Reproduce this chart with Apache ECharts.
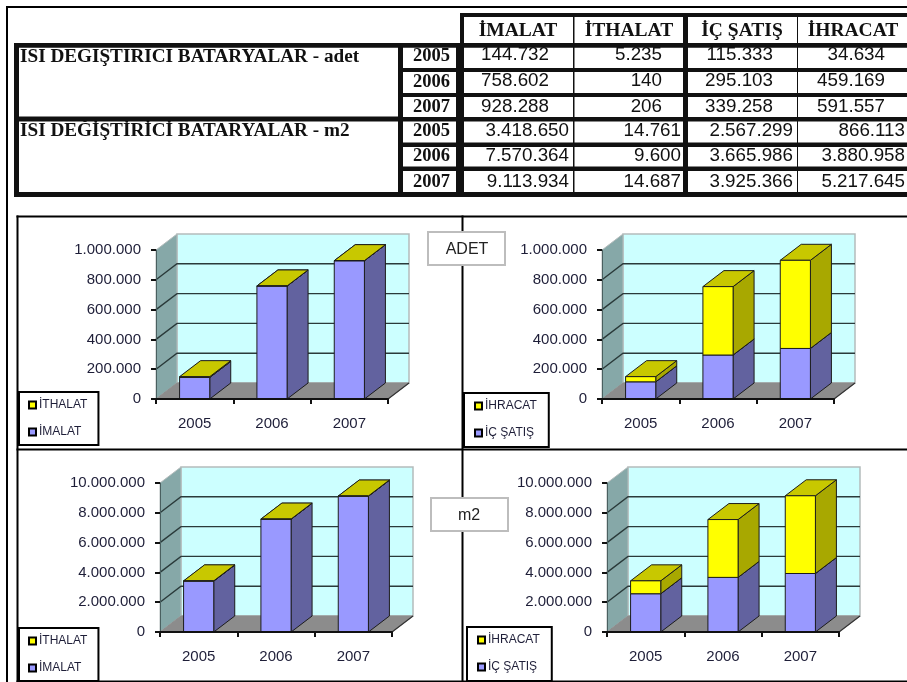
<!DOCTYPE html>
<html><head><meta charset="utf-8">
<style>html,body{margin:0;padding:0;background:#fff}#c{width:907px;height:682px;filter:blur(0.45px)}</style>
<script src="https://cdn.jsdelivr.net/npm/echarts@6/dist/echarts.min.js"></script>
</head><body><div id="c"></div>
<script>
const years = ['2005','2006','2007'];
const columnNames = ['İMALAT','İTHALAT','İÇ ŞATIŞ','İHRACAT'];
const adetTitle = 'ISI DEGIŞTIRICI BATARYALAR - adet';
const m2Title = 'ISI DEĞİŞTİRİCİ BATARYALAR - m2';
const adetImalat  = [144732, 758602, 928288];
const adetIthalat = [5235, 140, 206];
const adetIcSatis = [115333, 295103, 339258];
const adetIhracat = [34634, 459169, 591557];
const m2Imalat  = [3418650, 7570364, 9113934];
const m2Ithalat = [14761, 9600, 14687];
const m2IcSatis = [2567299, 3665986, 3925366];
const m2Ihracat = [866113, 3880958, 5217645];
const adetTicks = [0,200000,400000,600000,800000,1000000];
const m2Ticks = [0,2000000,4000000,6000000,8000000,10000000];

const fmt = v => String(v).replace(/\B(?=(\d{3})+(?!\d))/g,'.');
const DX=21, DY=16, BAR=0.39;
const PURPLE={front:'#9999ff',side:'#62629f',top:'#62629f'};
const YELLOW={front:'#ffff00',side:'#a8a800',top:'#c8c800'};
const SANS='"Liberation Sans",Arial,sans-serif', SERIF='"Liberation Serif","Times New Roman",serif';
const INK='#1e1e38';

function wallRender(ticks){
  return function(params,api){
    const cs=params.coordSys, x0=cs.x, x1=cs.x+cs.width;
    const y0=api.coord([0,ticks[0]])[1], yT=api.coord([0,ticks[ticks.length-1]])[1];
    const kids=[
      {type:'polygon',shape:{points:[[x0+DX,yT-DY],[x1+DX,yT-DY],[x1+DX,y0-DY],[x0+DX,y0-DY]]},style:{fill:'#ccffff',stroke:'#b4bcbc',lineWidth:1.5}},
      {type:'polygon',shape:{points:[[x0,yT],[x0+DX,yT-DY],[x0+DX,y0-DY],[x0,y0]]},style:{fill:'#86a8a8',stroke:'#b4bcbc',lineWidth:1}},
      {type:'polygon',shape:{points:[[x0,y0],[x0+DX,y0-DY],[x1+DX,y0-DY],[x1,y0]]},style:{fill:'#8c8c8c',stroke:'#8c8c8c',lineWidth:1}}
    ];
    ticks.slice(1,-1).forEach(t=>{
      const y=api.coord([0,t])[1];
      kids.push({type:'polyline',shape:{points:[[x0,y],[x0+DX,y-DY],[x1+DX,y-DY]]},style:{fill:'none',stroke:'#2a3a3a',lineWidth:1.4}});
    });
    kids.push({type:'line',shape:{x1:x1,y1:y0,x2:x1+DX,y2:y0-DY},style:{stroke:'#333',lineWidth:1.2}});
    return {type:'group',children:kids};
  };
}
function barRender(pal){
  return function(params,api){
    const i=api.value(0), hi=api.coord([i,api.value(2)]), lo=api.coord([i,api.value(1)]);
    const w=api.size([1,0])[0]*BAR, l=hi[0]-w/2, r=hi[0]+w/2, t=hi[1], b=lo[1];
    const st=f=>({fill:f,stroke:'#1c1c1c',lineWidth:1,lineJoin:'round'});
    return {type:'group',children:[
      {type:'polygon',shape:{points:[[r,b],[r+DX,b-DY],[r+DX,t-DY],[r,t]]},style:st(pal.side)},
      {type:'polygon',shape:{points:[[l,t],[l+DX,t-DY],[r+DX,t-DY],[r,t]]},style:st(pal.top)},
      {type:'rect',shape:{x:l,y:t,width:w,height:b-t},style:st(pal.front)}
    ]};
  };
}
const panels=[
 {left:156,top:250,ticks:adetTicks,lowName:'İMALAT',low:adetImalat,upName:'İTHALAT',up:adetIthalat,legend:{left:19,top:392,padding:[7,11,7,9]}},
 {left:602,top:250,ticks:adetTicks,lowName:'İÇ ŞATIŞ',low:adetIcSatis,upName:'İHRACAT',up:adetIhracat,legend:{left:464,top:393,padding:[7,12,8,10]}},
 {left:160,top:483,ticks:m2Ticks,lowName:'İMALAT',low:m2Imalat,upName:'İTHALAT',up:m2Ithalat,legend:{left:19,top:628,padding:[7,11,7,9]}},
 {left:607,top:483,ticks:m2Ticks,lowName:'İÇ ŞATIŞ',low:m2IcSatis,upName:'İHRACAT',up:m2Ihracat,legend:{left:467,top:627,padding:[7,12,8,10]}}
];
const grid=[],xAxis=[],yAxis=[],series=[],legend=[];
panels.forEach((p,k)=>{
  grid.push({left:p.left,top:p.top,width:232,height:149,containLabel:false});
  xAxis.push({gridIndex:k,type:'category',data:years,z:6,
    axisLine:{show:true,lineStyle:{color:'#111',width:2}},
    axisTick:{show:true,length:5,lineStyle:{color:'#111',width:2}},
    axisLabel:{color:INK,fontFamily:SANS,fontSize:15,margin:17},splitLine:{show:false}});
  const n=p.ticks.length;
  yAxis.push({gridIndex:k,type:'value',min:p.ticks[0],max:p.ticks[n-1],interval:p.ticks[1]-p.ticks[0],z:6,
    axisLine:{show:true,lineStyle:{color:'#4a6060',width:1}},
    axisTick:{show:true,length:5,lineStyle:{color:'#111',width:2}},
    axisLabel:{color:INK,fontFamily:SANS,fontSize:15,margin:15,formatter:v=>fmt(v)},splitLine:{show:false}});
  series.push({type:'custom',name:'duvar'+k,xAxisIndex:k,yAxisIndex:k,silent:true,clip:false,
    data:[[0,0]],renderItem:wallRender(p.ticks),z:2});
  series.push({type:'custom',name:p.lowName,xAxisIndex:k,yAxisIndex:k,clip:false,silent:true,z:3,
    itemStyle:{color:PURPLE.front},encode:{x:0,y:[1,2]},
    data:p.low.map((v,i)=>[i,0,v]),renderItem:barRender(PURPLE)});
  series.push({type:'custom',name:p.upName,xAxisIndex:k,yAxisIndex:k,clip:false,silent:true,z:4,
    itemStyle:{color:YELLOW.front},encode:{x:0,y:[1,2]},
    data:p.up.map((v,i)=>[i,p.low[i],p.low[i]+v]),renderItem:barRender(YELLOW)});
  legend.push(Object.assign({orient:'vertical',itemWidth:7,itemHeight:7,itemGap:15,icon:'rect',selectedMode:false,
    data:[p.upName,p.lowName],backgroundColor:'#fff',borderColor:'#000',borderWidth:2,
    itemStyle:{borderColor:'#000',borderWidth:2},
    textStyle:{fontFamily:SANS,fontSize:12,color:INK,padding:[0,0,0,-2]},z:8},p.legend));
});

// table + frames
const g=[];
const rect=(x,y,w,h,fill,extra)=>g.push(Object.assign({type:'rect',shape:{x,y,width:w,height:h},style:{fill}},extra||{}));
const txt=(s,x,y,font,align,fill)=>g.push({type:'text',style:{text:s,x,y,font,align,textAlign:align,verticalAlign:'middle',textVerticalAlign:'middle',fill:fill||'#111'}});
rect(6,6,2,676,'#000'); rect(6,6,901,2,'#000');
rect(14,43,893,154,'#111'); rect(460,13,447,34,'#111');
const rowsY=[[47.5,20.5],[72,21],[97,20],[121.5,21],[147,19.5],[171,21]];
const rowMid=[55,81,106.5,130.5,155.5,181.5];
const cols=[[464,109],[574.5,108.5],[688,109],[798,109]];
const headMid=[518,629,742,853];
cols.forEach((c,j)=>{
  rect(c[0],17,c[1],26,'#fff');
  rowsY.forEach(r=>rect(c[0],r[0],c[1],r[1],'#fff'));
});
rect(19,47.5,379,69,'#fff'); rect(19,121.5,379,70.5,'#fff');
rowsY.forEach(r=>rect(403,r[0],53,r[1],'#fff'));
columnNames.forEach((n,j)=>txt(n,headMid[j],31,'bold 19.5px '+SERIF,'center'));
txt(adetTitle,20,57,'bold 19.2px '+SERIF,'left');
txt(m2Title,20,131,'bold 19.2px '+SERIF,'left');
const allYears=years.concat(years);
allYears.forEach((y,i)=>txt(y,431.5,rowMid[i]+1,'bold 18.5px '+SERIF,'center'));
const tableCols=[[adetImalat,m2Imalat],[adetIthalat,m2Ithalat],[adetIcSatis,m2IcSatis],[adetIhracat,m2Ihracat]];
const rightEdge=[[549,569],[662,681],[773,793],[885,905]];
tableCols.forEach((block,j)=>block.forEach((arr,b)=>arr.forEach((v,i)=>
  txt(fmt(v),rightEdge[j][b],rowMid[b*3+i],'18.8px '+SANS,'right'))));
rect(14,43,893,4.5,'#111');
// chart frames
rect(16.5,215.5,890.5,2,'#000'); rect(16.5,215.5,2,466.5,'#000');
rect(461.5,215.5,2,466.5,'#000'); rect(16.5,448.5,890.5,2,'#000'); rect(16.5,680.5,890.5,1.5,'#000');
// label boxes
g.push({type:'rect',shape:{x:428,y:232,width:77,height:33},style:{fill:'#fff',stroke:'#bdbdbd',lineWidth:2}});
txt('ADET',467,250,'16px '+SANS,'center','#222');
g.push({type:'rect',shape:{x:431,y:498,width:77,height:33},style:{fill:'#fff',stroke:'#bdbdbd',lineWidth:2}});
txt('m2',469,516,'16px '+SANS,'center','#222');

const chart=echarts.init(document.getElementById('c'),null,{renderer:'canvas'});
chart.setOption({animation:false,backgroundColor:'#fff',tooltip:{show:false},grid,xAxis,yAxis,series,legend,
  graphic:{elements:g.map(e=>Object.assign(e,{silent:true}))}});
</script></body></html>
